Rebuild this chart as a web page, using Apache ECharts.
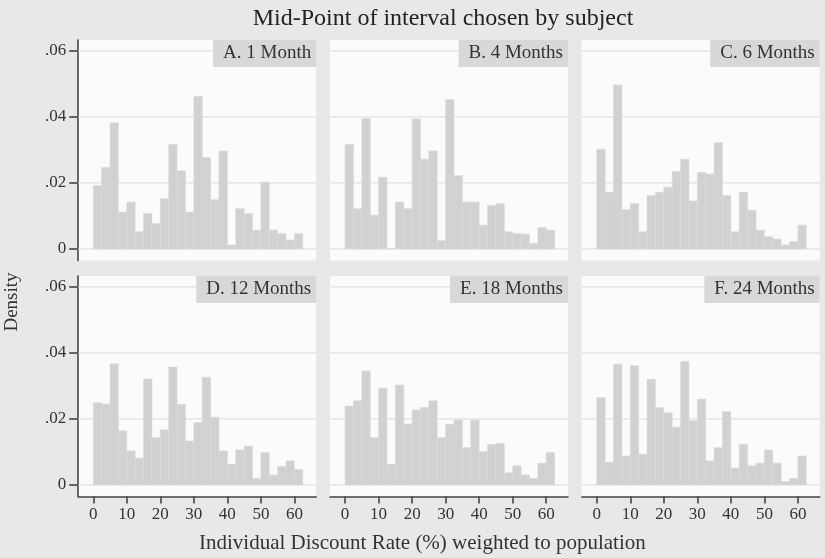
<!DOCTYPE html>
<html>
<head>
<meta charset="utf-8">
<script src="https://cdn.jsdelivr.net/npm/echarts@6/dist/echarts.min.js"></script>
<style>
  html, body { margin: 0; padding: 0; background: #e8e8e8; }
  #chart { width: 825px; height: 558px; }
</style>
</head>
<body>
<div id="chart"></div>
<script>
// Histogram bin edges (discount rate, %)
const binEdges = [0, 2.5, 5, 7.5, 10, 12.5, 15, 17.5, 20, 22.5, 25, 27.5, 30,
                  32.5, 35, 37.5, 40, 42.5, 45, 47.5, 50, 52.5, 55, 57.5, 60, 62.5];

const panelTitles = ['A. 1 Month', 'B. 4 Months', 'C. 6 Months',
                     'D. 12 Months', 'E. 18 Months', 'F. 24 Months'];

// Density per bin, one array per horizon
const density1m = [0.0192, 0.0247, 0.0382, 0.0112, 0.0142, 0.0052, 0.0107, 0.0077, 0.0152, 0.0317,
                   0.0237, 0.0112, 0.0462, 0.0277, 0.0149, 0.0297, 0.0012, 0.0122, 0.0107, 0.0057,
                   0.0202, 0.0057, 0.0047, 0.0027, 0.0047];
const density4m = [0.0317, 0.0122, 0.0395, 0.0102, 0.0217, 0, 0.0142, 0.0122, 0.0394, 0.0272,
                   0.0297, 0.0025, 0.0452, 0.0222, 0.0142, 0.0142, 0.0072, 0.0132, 0.0137, 0.0052,
                   0.0047, 0.0045, 0.0017, 0.0065, 0.0057];
const density6m = [0.0302, 0.0172, 0.0497, 0.0119, 0.0137, 0.0052, 0.0162, 0.0172, 0.0187, 0.0235,
                   0.0272, 0.0145, 0.0232, 0.0227, 0.0322, 0.0162, 0.0052, 0.0172, 0.0117, 0.0057,
                   0.0037, 0.0030, 0.0012, 0.0022, 0.0072];
const density12m = [0.0249, 0.0245, 0.0367, 0.0164, 0.0103, 0.0081, 0.0321, 0.0143, 0.0167, 0.0357,
                    0.0244, 0.0133, 0.0189, 0.0326, 0.0205, 0.0103, 0.0063, 0.0106, 0.0118, 0.0020,
                    0.0098, 0.0030, 0.0056, 0.0073, 0.0047];
const density18m = [0.0239, 0.0255, 0.0345, 0.0143, 0.0293, 0.0063, 0.0303, 0.0184, 0.0227, 0.0235,
                    0.0255, 0.0143, 0.0184, 0.0197, 0.0113, 0.0197, 0.0101, 0.0123, 0.0126, 0.0037,
                    0.0058, 0.0030, 0.0020, 0.0066, 0.0098];
const density24m = [0.0265, 0.0069, 0.0366, 0.0088, 0.0361, 0.0093, 0.0320, 0.0234, 0.0219, 0.0175,
                    0.0374, 0.0195, 0.0260, 0.0073, 0.0113, 0.0222, 0.0051, 0.0123, 0.0058, 0.0066,
                    0.0106, 0.0066, 0.0010, 0.0020, 0.0088];

const xTickValues = [0, 10, 20, 30, 40, 50, 60];
const yTickValues = [0, 0.02, 0.04, 0.06];

const panelData = [density1m, density4m, density6m, density12m, density18m, density24m];

// Layout
const serif = '"Liberation Serif", "Times New Roman", serif';
const gridLefts = [78.2, 330, 581.7];
const gridWidth = 238;
const rowTops = [40, 276];
const gridHeight = 220.5;
const xMin = -4.5, xMax = 66.5;
const yMin = -0.0035, yMax = 0.0633;

const grids = [], xAxes = [], yAxes = [], series = [], titles = [];

titles.push({
  text: 'Mid-Point of interval chosen by subject',
  left: 438, top: 2, textAlign: 'center',
  textStyle: { fontFamily: serif, fontSize: 24, fontWeight: 'normal', color: '#222' }
});

for (let i = 0; i < 6; i++) {
  const row = Math.floor(i / 3), col = i % 3;
  const left = gridLefts[col], top = rowTops[row];
  grids.push({
    left: left, top: top, width: gridWidth, height: gridHeight,
    show: true, backgroundColor: '#fbfbfb', borderWidth: 0
  });
  const bottomRow = row === 1;
  xAxes.push({
    gridIndex: i, type: 'value', min: xMin, max: xMax,
    show: bottomRow,
    axisLine: { show: true, onZero: false, lineStyle: { color: '#444', width: 1.6 } },
    axisTick: { show: true, customValues: xTickValues, length: 7, lineStyle: { color: '#444', width: 1.6 } },
    axisLabel: { show: true, customValues: xTickValues, margin: 10, fontFamily: serif, fontSize: 17, color: '#333' },
    splitLine: { show: false }
  });
  const firstCol = col === 0;
  yAxes.push({
    gridIndex: i, type: 'value', min: yMin, max: yMax,
    show: firstCol,
    axisLine: { show: true, onZero: false, lineStyle: { color: '#444', width: 1.6 } },
    axisTick: { show: true, customValues: yTickValues, length: 9, lineStyle: { color: '#444', width: 1.6 } },
    axisLabel: {
      show: true, customValues: yTickValues, margin: 12, fontFamily: serif, fontSize: 17, color: '#333',
      formatter: v => v === 0 ? '0' : String(v.toFixed(2)).replace(/^0/, '')
    },
    splitLine: { show: false }
  });

  // horizontal reference lines
  series.push({
    type: 'custom', xAxisIndex: i, yAxisIndex: i, silent: true, z: 1,
    data: yTickValues.map(v => [v]),
    encode: { y: 0 },
    renderItem: (params, api) => {
      const cs = params.coordSys;
      const y = api.coord([0, api.value(0)])[1];
      return {
        type: 'line',
        shape: { x1: cs.x, y1: y, x2: cs.x + cs.width, y2: y },
        style: { stroke: '#e2e2e2', lineWidth: 1.2 }
      };
    }
  });

  // histogram bars
  const vals = panelData[i];
  series.push({
    type: 'custom', xAxisIndex: i, yAxisIndex: i, z: 2,
    data: vals.map((v, k) => [binEdges[k], binEdges[k + 1], v]),
    encode: { x: [0, 1], y: 2 },
    renderItem: (params, api) => {
      const p0 = api.coord([api.value(0), api.value(2)]);
      const p1 = api.coord([api.value(1), 0]);
      return {
        type: 'rect',
        shape: { x: p0[0], y: p0[1], width: p1[0] - p0[0], height: p1[1] - p0[1] },
        style: { fill: '#d1d1d1', stroke: '#dadada', lineWidth: 0.6 }
      };
    }
  });

  // panel heading box
  titles.push({
    text: panelTitles[i],
    right: 825 - (left + gridWidth), top: top,
    backgroundColor: '#d8d8d8',
    padding: [4, 5, 4, 10],
    textStyle: { fontFamily: serif, fontSize: 19, fontWeight: 'normal', color: '#333' }
  });
}

const chart = echarts.init(document.getElementById('chart'), null, { renderer: 'canvas' });
chart.setOption({
  backgroundColor: '#e8e8e8',
  animation: false,
  title: titles,
  grid: grids,
  xAxis: xAxes,
  yAxis: yAxes,
  series: series,
  graphic: [
    {
      type: 'text', left: 429 - 230, top: 533,
      style: {
        text: 'Individual Discount Rate (%) weighted to population',
        font: '21px ' + serif, fill: '#333', width: 460, align: 'center'
      }
    },
    {
      type: 'text', rotation: Math.PI / 2, x: 3, y: 302,
      style: {
        text: 'Density', font: '19px ' + serif, fill: '#333',
        align: 'center', verticalAlign: 'top'
      }
    }
  ]
});
</script>
</body>
</html>
